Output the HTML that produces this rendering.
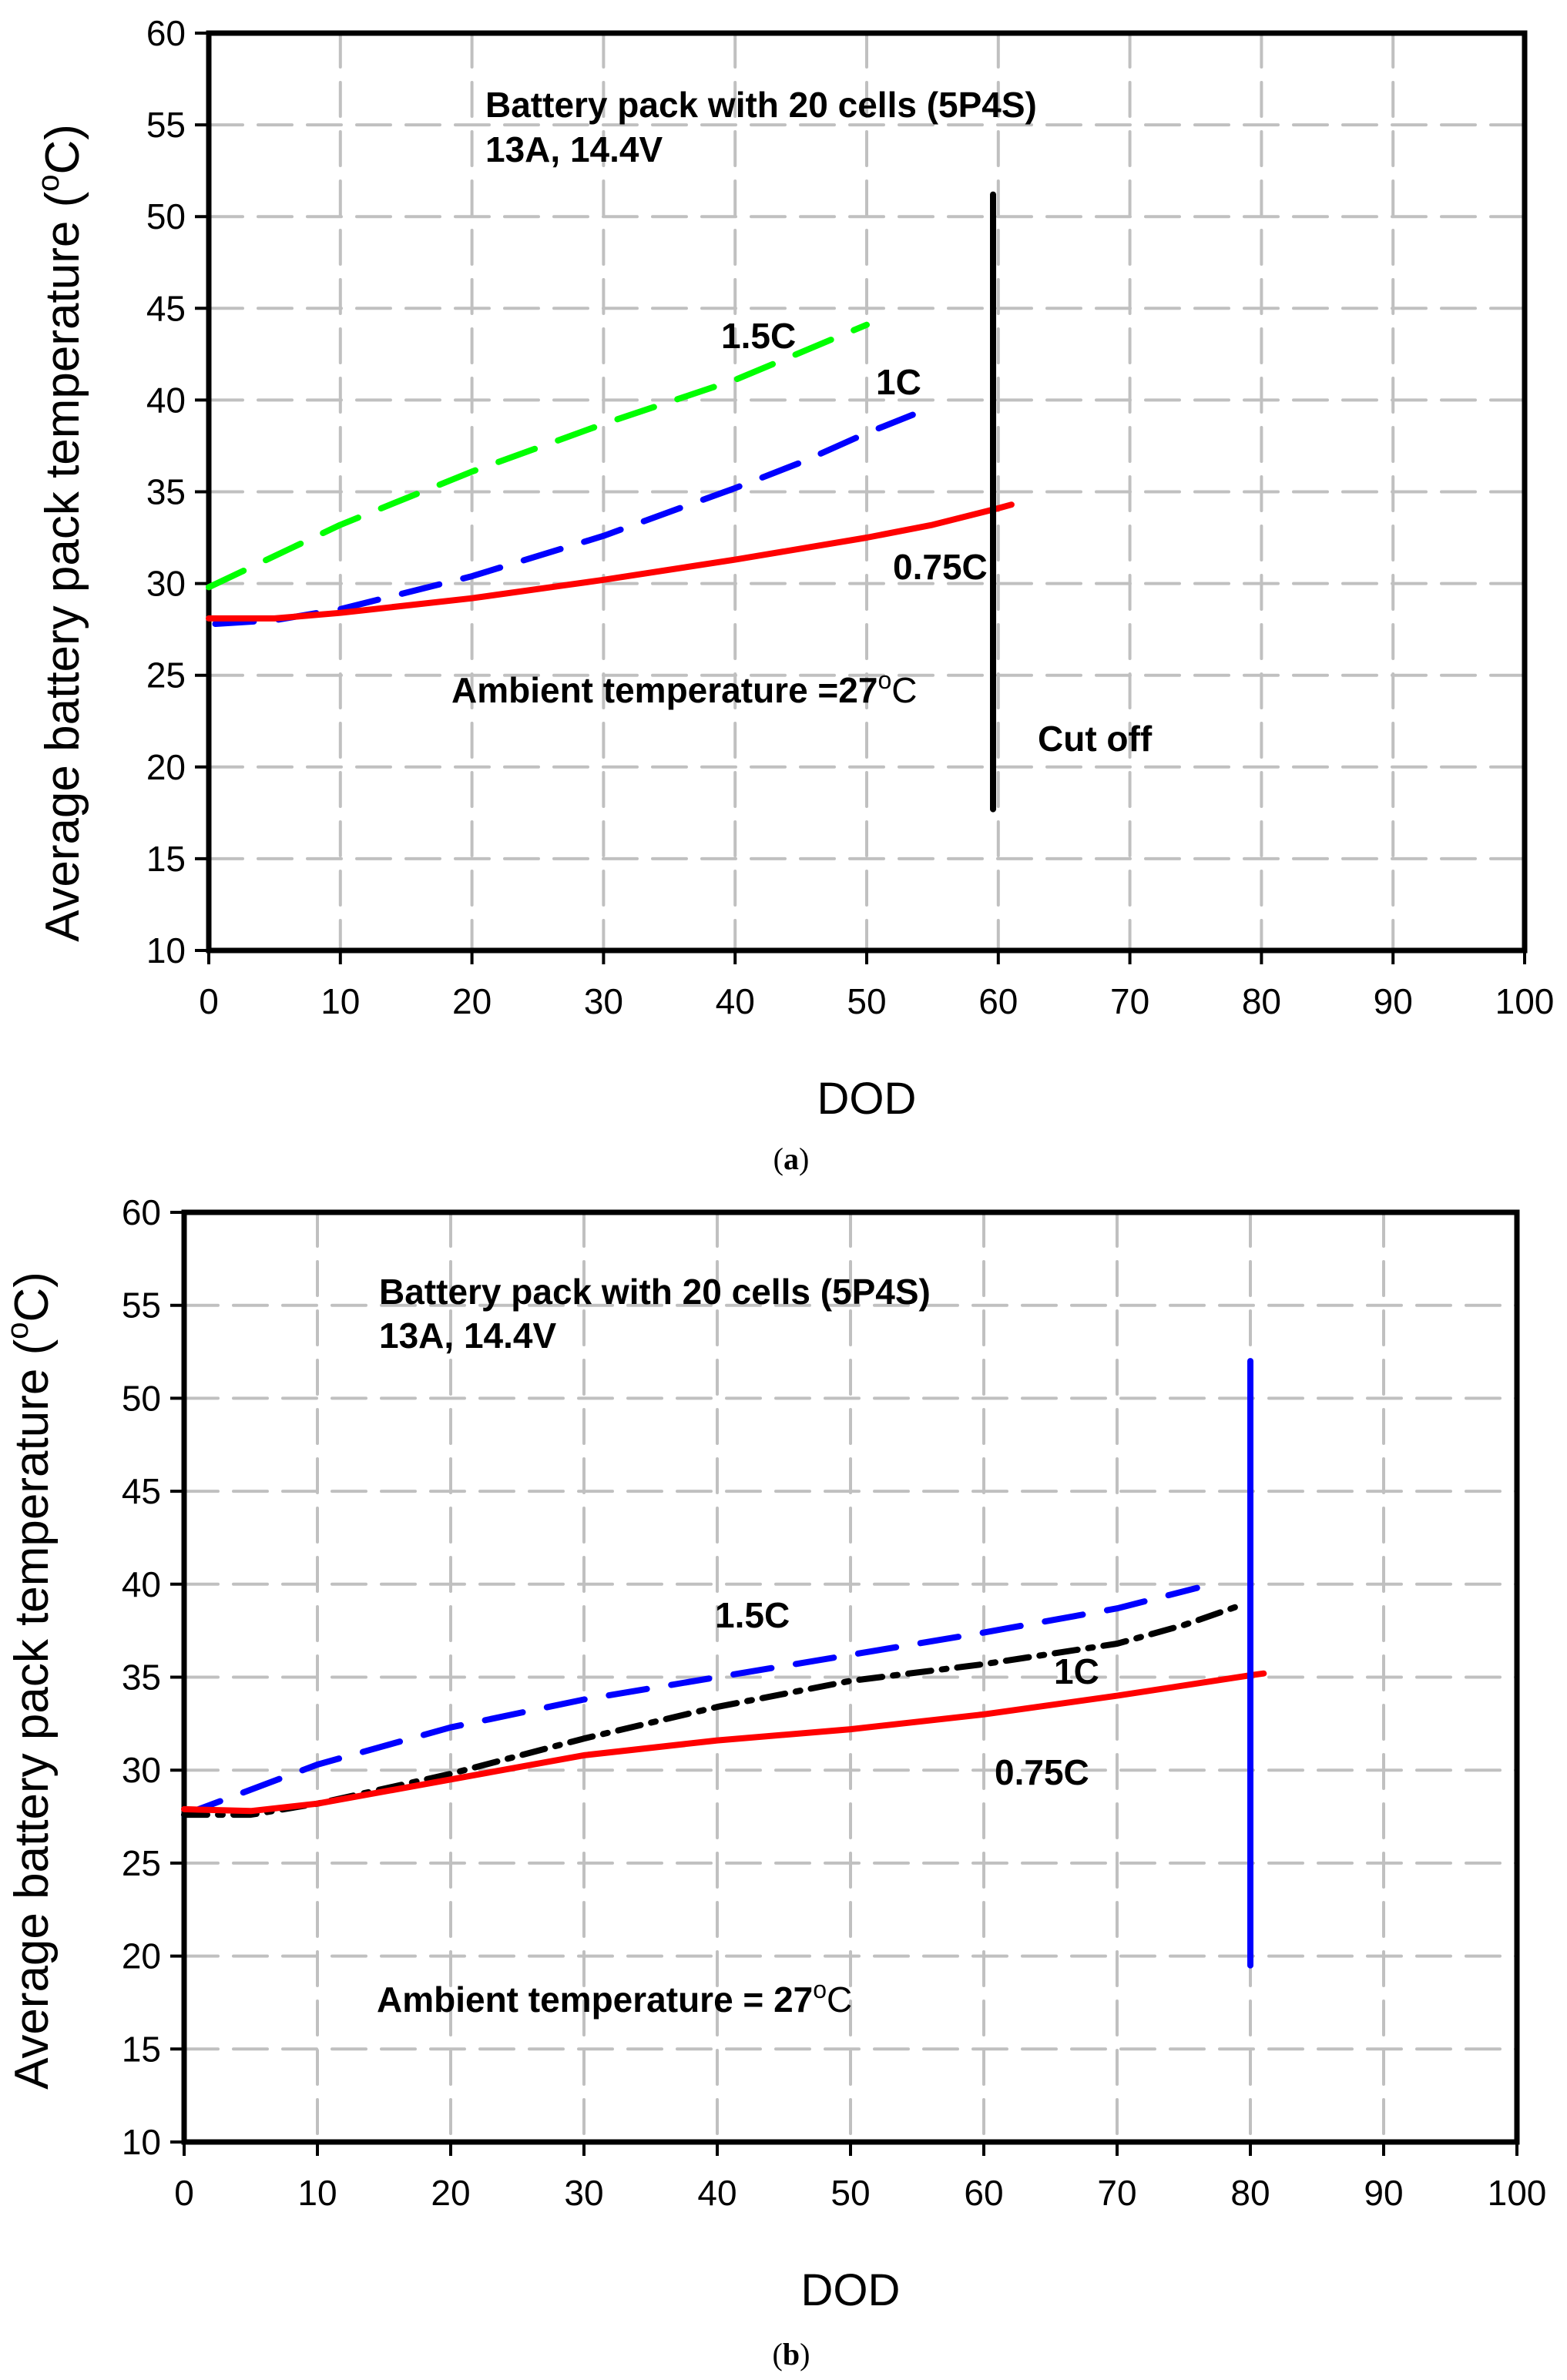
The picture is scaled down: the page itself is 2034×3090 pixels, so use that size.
<!DOCTYPE html>
<html><head><meta charset="utf-8"><style>
html,body{margin:0;padding:0;background:#fff;}
svg{display:block;}
text{font-family:"Liberation Sans",Arial,sans-serif;}
</style></head><body>
<svg id="fig" width="2034" height="3090" viewBox="0 0 2034 3090" xmlns="http://www.w3.org/2000/svg"></svg>
<script>
// ---- Chart (a) data ----
const xTicks = [0,10,20,30,40,50,60,70,80,90,100];
const yTicks = [10,15,20,25,30,35,40,45,50,55,60];
const aX075 = [0,5,10,20,30,40,50,55,60,61];
const aY075 = [28.1,28.1,28.4,29.2,30.2,31.3,32.5,33.2,34.1,34.3];
const aX1 = [0.5,5,10,20,30,40,45,50,53.5];
const aY1 = [27.8,28.0,28.6,30.4,32.6,35.2,36.6,38.2,39.2];
const aX15 = [0,10,20,30,40,50];
const aY15 = [29.8,33.2,36.1,38.7,41.1,44.1];
const aCutX = [59.6,59.6];
const aCutY = [17.7,51.2];
// ---- Chart (b) data ----
const bX075 = [0,5,10,20,30,40,50,60,70,80,81];
const bY075 = [27.9,27.8,28.2,29.5,30.8,31.6,32.2,33.0,34.0,35.1,35.2];
const bX1 = [0,5,10,20,30,40,50,60,70,75,79];
const bY1 = [27.6,27.6,28.2,29.8,31.7,33.4,34.8,35.7,36.8,37.8,38.8];
const bX15 = [0,10,20,30,40,50,60,70,76];
const bY15 = [27.6,30.3,32.3,33.8,35.0,36.2,37.4,38.7,39.8];
const bCutX = [80,80];
const bCutY = [19.5,52];

const NS = "http://www.w3.org/2000/svg";
const svg = document.getElementById('fig');
function mk(tag, attrs, parent){
  const e = document.createElementNS(NS, tag);
  for (const k in attrs) e.setAttribute(k, attrs[k]);
  (parent||svg).appendChild(e);
  return e;
}
function chart(box, id){
  const g = mk('g', {});
  
  
  const sx = v => box.l + (v - 0) / 100 * (box.r - box.l);
  const sy = v => box.b - (v - 10) / 50 * (box.b - box.t);
  xTicks.forEach(v => {
    if (v === 0 || v === 100) return;
    const ln = mk('line', {x1:sx(v), x2:sx(v), y1:box.t, y2:box.b, stroke:'#c0c0c0', 'stroke-width':4, 'stroke-dasharray':'44 20', 'stroke-linecap':'round'}, g);
    
    
  });
  yTicks.forEach(v => {
    if (v === 10 || v === 60) return;
    const ln = mk('line', {x1:box.l, x2:box.r, y1:sy(v), y2:sy(v), stroke:'#c0c0c0', 'stroke-width':4, 'stroke-dasharray':'44 20', 'stroke-linecap':'round'}, g);
    
    
  });
  const fr = mk('rect', {x:box.l, y:box.t, width:box.r-box.l, height:box.b-box.t, fill:'none', stroke:'#000', 'stroke-width':7}, g);
  
  
  xTicks.forEach(v => {
    mk('line', {x1:sx(v), x2:sx(v), y1:box.b, y2:box.b+18, stroke:'#000', 'stroke-width':4}, g);
    const t = mk('text', {x:sx(v), y:box.b+82, 'font-size':46, 'text-anchor':'middle'}, g);
    t.textContent = v;
    
    
  });
  yTicks.forEach(v => {
    mk('line', {x1:box.l-18, x2:box.l, y1:sy(v), y2:sy(v), stroke:'#000', 'stroke-width':4}, g);
    const t = mk('text', {x:box.l-30, y:sy(v)+16, 'font-size':46, 'text-anchor':'end'}, g);
    t.textContent = v;
    
    
  });
  const xt = mk('text', {x:(box.l+box.r)/2, y:box.b+212, 'font-size':58, 'text-anchor':'middle'}, g);
  xt.textContent = 'DOD';
  
  
  const cy = box.yTitleY;
  const yt = mk('text', {x:box.yTitleX, y:cy, 'font-size':62, 'text-anchor':'middle', transform:'rotate(-90 '+box.yTitleX+' '+cy+')'}, g);
  yt.innerHTML = 'Average battery pack temperature (<tspan font-size="40" dy="-26">o</tspan><tspan dy="26">C)</tspan>';
  
  
  return {g, sx, sy};
}
function series(c, xs, ys, color, dash, name){
  const d = xs.map((x,i)=>(i?'L':'M')+c.sx(x).toFixed(1)+' '+c.sy(ys[i]).toFixed(1)).join(' ');
  const p = mk('path', {d, fill:'none', stroke:color, 'stroke-width':8, 'stroke-linecap':'round', 'stroke-linejoin':'round'}, c.g);
  if (dash) p.setAttribute('stroke-dasharray', dash);
  
  
}
function label(c, x, y, txt, name, size){
  const t = mk('text', {x, y, 'font-size':size||46, 'font-weight':'bold'}, c.g);
  t.innerHTML = txt;
  
  
}
const deg = '<tspan font-size="32" font-weight="normal" dy="-18">o</tspan><tspan font-weight="normal" dy="18">C</tspan>';

// Chart a
const A = chart({l:271, r:1979, t:43, b:1234, yTitleX:102, yTitleY:692}, 'a');
series(A, aX15, aY15, '#00ff00', '50 32', 'series-1-5c');
series(A, aX1, aY1, '#0000ff', '50 32', 'series-1c');
series(A, aX075, aY075, '#ff0000', null, 'series-0-75c');
series(A, aCutX, aCutY, '#000000', null, 'cut-off-line');
label(A, 630, 152, 'Battery pack with 20 cells (5P4S)', 'annotation-pack');
label(A, 630, 210, '13A, 14.4V', 'annotation-rating');
label(A, 936, 452, '1.5C', 'label-1-5c');
label(A, 1137, 512, '1C', 'label-1c');
label(A, 1159, 752, '0.75C', 'label-0-75c');
label(A, 586, 912, 'Ambient temperature =27' + deg, 'annotation-ambient');
label(A, 1347, 975, 'Cut off', 'label-cut-off');

// Chart b
const B = chart({l:239, r:1969, t:1574, b:2781, yTitleX:62, yTitleY:2182}, 'b');
series(B, bX15, bY15, '#0000ff', '50 32', 'series-1-5c');
series(B, bX1, bY1, '#000000', '30 14 6 14', 'series-1c');
series(B, bX075, bY075, '#ff0000', null, 'series-0-75c');
series(B, bCutX, bCutY, '#0000ff', null, 'cut-off-line');
label(B, 492, 1693, 'Battery pack with 20 cells (5P4S)', 'annotation-pack');
label(B, 492, 1750, '13A, 14.4V', 'annotation-rating');
label(B, 928, 2113, '1.5C', 'label-1-5c');
label(B, 1368, 2186, '1C', 'label-1c');
label(B, 1291, 2317, '0.75C', 'label-0-75c');
label(B, 489, 2612, 'Ambient temperature = 27' + deg, 'annotation-ambient');

const ca = mk('text', {x:1027, y:1518, 'font-size':40, 'text-anchor':'middle', style:'font-family:"Liberation Serif",serif'});
ca.innerHTML = '(<tspan font-weight="bold">a</tspan>)';


const cb = mk('text', {x:1027, y:3070, 'font-size':40, 'text-anchor':'middle', style:'font-family:"Liberation Serif",serif'});
cb.innerHTML = '(<tspan font-weight="bold">b</tspan>)';


</script>
</body></html>
